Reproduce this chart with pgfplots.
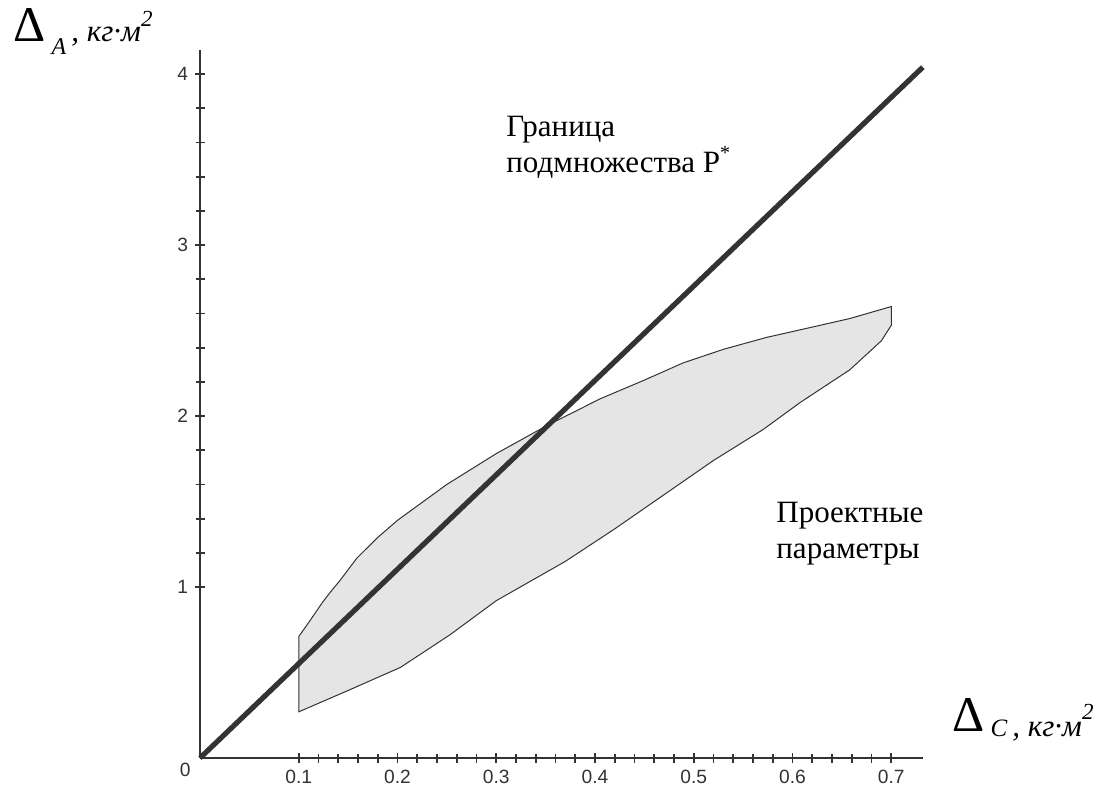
\documentclass[border=0pt]{standalone}
\usepackage{pgfplots}
\pgfplotsset{compat=1.18}
\usepackage{fontspec}
\setmainfont{Liberation Serif}
\newfontfamily\tickfont{Liberation Sans}
\definecolor{ln}{HTML}{333333}
\definecolor{fillg}{HTML}{E5E5E5}
\begin{document}
\begin{tikzpicture}
\begin{axis}[
  x=493.75pt, y=85.5pt,
  xmin=0, xmax=0.732, ymin=0, ymax=4.14,
  axis lines=left,
  axis line style={-, line width=1pt, draw=ln},
  xtick={0.1,0.2,0.3,0.4,0.5,0.6,0.7},
  xticklabels={0.1,0.2,0.3,0.4,0.5,0.6,0.7},
  ytick={1,2,3,4},
  yticklabels={1,2,3,4},
  minor x tick num=4, minor y tick num=4,
  tick align=center,
  major tick length=5pt, minor tick length=4.5pt,
  tick style={line width=0.9pt, draw=ln},
  ticklabel style={font=\tickfont\fontsize{9.6}{11}\selectfont, text=ln},
  /pgf/number format/assume math mode=true,
  clip=false,
]
\addplot[draw=ln, line width=0.5pt, fill=fillg] coordinates {
  (0.1,0.71) (0.111,0.80) (0.124,0.91) (0.132,0.97) (0.142,1.04)
  (0.159,1.17) (0.18,1.29) (0.2,1.39) (0.25,1.60) (0.3,1.78)
  (0.35,1.94) (0.405,2.10) (0.45,2.21) (0.489,2.31) (0.53,2.39)
  (0.574,2.46) (0.62,2.52) (0.658,2.57) (0.7,2.64)
  (0.7,2.53) (0.69,2.44) (0.658,2.27) (0.608,2.08) (0.57,1.92)
  (0.52,1.74) (0.47,1.54) (0.42,1.34) (0.37,1.15) (0.3,0.92)
  (0.253,0.72) (0.203,0.53) (0.152,0.40) (0.1,0.27)
} -- cycle;
\addplot[draw=ln, line width=2.6pt] coordinates {
  (0,0) (0.1,0.552) (0.2,1.104) (0.3,1.656) (0.4,2.208) (0.5,2.76) (0.6,3.312) (0.732,4.04)
};
\node[anchor=north east, inner sep=0pt, font=\tickfont\fontsize{9.6}{11}\selectfont, text=ln]
  at (axis cs:0,0) [xshift=-4.5pt, yshift=-2.5pt] {0};
\end{axis}
% axis titles
\node[anchor=base west, inner sep=0pt] at (-93.5pt,358pt)
  {{\fontsize{25}{25}\selectfont Δ}\hspace{3pt}\raisebox{-6.5pt}{\fontsize{12}{12}\selectfont\itshape A}{\fontsize{15.5}{15.5}\selectfont\itshape\,, кг·м}\raisebox{7.5pt}{\fontsize{11.5}{11.5}\selectfont\itshape 2}};
\node[anchor=base west, inner sep=0pt] at (376pt,11pt)
  {\raisebox{2.5pt}{\fontsize{25}{25}\selectfont Δ}\hspace{3pt}{\fontsize{12.5}{12.5}\selectfont\itshape C}{\fontsize{15.5}{15.5}\selectfont\itshape\,, кг·м}\raisebox{8.5pt}{\fontsize{11.5}{11.5}\selectfont\itshape 2}};
% annotations
\node[anchor=base west, inner sep=0pt, align=left, font=\fontsize{15.5}{18}\selectfont] at (153pt,293pt)
  {Граница\\подмножества P\raisebox{6.5pt}{\fontsize{10}{10}\selectfont *}};
\node[anchor=base west, inner sep=0pt, align=left, font=\fontsize{15.5}{18}\selectfont] at (288pt,100pt)
  {Проектные\\параметры};
\pgfresetboundingbox
\useasboundingbox (-100pt,-21pt) rectangle (458.5pt,379pt);
\end{tikzpicture}
\end{document}
